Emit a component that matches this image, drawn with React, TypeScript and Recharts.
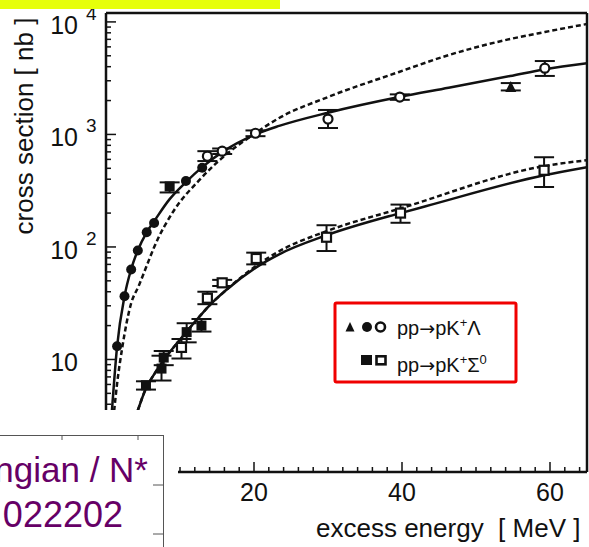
import React from "react";
import { ComposedChart, Line, Scatter, XAxis, YAxis, ErrorBar, ReferenceLine } from "recharts";

const FONT = "'Liberation Sans', Arial, Helvetica, sans-serif";
const INK = "#111";

// pp -> pK+ Lambda, filled circles (excess energy MeV, cross section nb)
const lamFilledE = [1.5, 2.5, 3.4, 4.3, 5.5, 6.5, 10.8, 13.0];
const lamFilledS = [13.1, 36.5, 63, 93, 135, 163, 385, 505];

// Lambda, filled square near threshold
const lamSquareE = [8.6];
const lamSquareS = [345];
const lamSquareLo = [40];
const lamSquareHi = [30];

// Lambda, open circles
const lamOpenE = [13.7, 15.7, 20.2, 30.0, 39.7, 59.3];
const lamOpenS = [640, 710, 1025, 1370, 2150, 3880];
const lamOpenLo = [60, 40, 60, 230, 120, 570];
const lamOpenHi = [70, 40, 60, 280, 120, 610];

// Lambda, filled triangle
const lamTriE = [54.7];
const lamTriS = [2640];
const lamTriLo = [180];
const lamTriHi = [220];

// pp -> pK+ Sigma0, filled squares
const sigFilledE = [5.4, 7.5, 7.8, 10.9, 12.9];
const sigFilledS = [5.9, 8.3, 10.4, 17.5, 20];
const sigFilledLo = [0.5, 1.8, 1.5, 3.3, 2.3];
const sigFilledHi = [0.5, 2.5, 1.5, 3.5, 2.9];

// Sigma0, open squares
const sigOpenE = [10.2, 13.7, 15.7, 20.3, 29.8, 39.8, 59.2];
const sigOpenS = [12.8, 35, 48, 79, 122, 200, 480];
const sigOpenLo = [2.6, 4, 3, 9, 30, 36, 139];
const sigOpenHi = [2.4, 5, 3, 10, 34, 38, 147];

// model curves
const lamSolidE = [0.8, 1.5, 2.5, 3.4, 4.3, 5.5, 6.5, 8.6, 10.8, 13, 15.7, 20.2, 23.4, 30, 39.6, 46.3, 54.6, 59.3, 65];
const lamSolidS = [3.5, 13.1, 36.4, 63.4, 93.5, 135, 169, 266, 377, 512, 696, 1000, 1190, 1560, 2150, 2600, 3300, 3800, 4300];
const lamDashE = [1.1, 1.5, 2.2, 3.4, 4.4, 5.9, 6.5, 9.2, 12.6, 14.9, 20.2, 23.4, 30, 39.6, 46.3, 54.6, 59.3, 65];
const lamDashS = [3.5, 6.1, 12.8, 31.6, 44.7, 79.4, 99.3, 212, 392, 556, 1028, 1400, 2150, 3590, 5070, 7040, 8130, 9580];
const sigSolidE = [4.3, 5.4, 6.5, 8.2, 10.6, 12.2, 14.0, 16.2, 20.3, 23.4, 29.8, 39.8, 43.2, 59.2, 65];
const sigSolidS = [3.53, 5.53, 7.37, 10.7, 16.7, 22.3, 30.3, 41.2, 65.9, 86.1, 127, 200, 230, 434, 512];
const sigDashE = [4.3, 5.4, 6.5, 8.2, 10.6, 12.2, 14.0, 16.2, 20.3, 23.4, 29.8, 39.8, 59.2, 65];
const sigDashS = [3.53, 5.53, 7.37, 10.7, 16.7, 22.3, 30.3, 41.2, 68, 91.6, 138, 220, 523, 590];

const xLabels = [20, 40, 60];
const xTicks = [0, 2, 4, 6, 8, 10, 12, 14, 16, 18, 20, 22, 24, 26, 28, 30, 32, 34, 36, 38, 40, 42, 44, 46, 48, 50, 52, 54, 56, 58, 60, 62, 64];
const yDecades = [1, 10, 100, 1000];
const yTicks = [...yDecades.flatMap((d) => [1, 2, 3, 4, 5, 6, 7, 8, 9].map((m) => m * d)), 10000];

const pts = (E: number[], S: number[], lo?: number[], hi?: number[]) =>
  E.map((x, i) => ({ x, y: S[i], err: lo ? [lo[i], (hi ?? lo)[i]] : [0, 0] }));

const FilledCircle = (p: any) => <circle cx={p.cx} cy={p.cy} r={5} fill={INK} />;
const OpenCircle = (p: any) => <circle cx={p.cx} cy={p.cy} r={4.5} fill="#fff" stroke={INK} strokeWidth={2.2} />;
const FilledSquare = (p: any) => <rect x={p.cx - 5} y={p.cy - 5} width={10} height={10} fill={INK} />;
const OpenSquare = (p: any) => (
  <rect x={p.cx - 4.5} y={p.cy - 4.5} width={9} height={9} fill="#fff" stroke={INK} strokeWidth={2.2} />
);
const Triangle = (p: any) => (
  <polygon points={`${p.cx},${p.cy - 6} ${p.cx - 5.5},${p.cy + 5} ${p.cx + 5.5},${p.cy + 5}`} fill={INK} />
);

function XTick({ x, y, payload }: any) {
  const v = payload.value;
  const major = xLabels.includes(v);
  return (
    <g>
      <line x1={x} x2={x} y1={y} y2={y - (major ? 10 : 5)} stroke={INK} strokeWidth={1.5} />
      {major && (
        <text x={x} y={y + 29} textAnchor="middle" fontSize={25} fontFamily={FONT} fill={INK}>
          {v}
        </text>
      )}
    </g>
  );
}

function YTick({ x, y, payload }: any) {
  const v = payload.value;
  const lg = Math.log10(v);
  const exp = Math.round(lg);
  const major = Math.abs(lg - exp) < 1e-6;
  return (
    <g>
      <line x1={x} x2={x + (major ? 10 : 5)} y1={y} y2={y} stroke={INK} strokeWidth={1.5} />
      {major && exp >= 1 && (
        <text x={x - 28} y={y + 12} textAnchor="end" fontSize={25} fontFamily={FONT} fill={INK}>
          10
        </text>
      )}
      {major && exp >= 2 && (
        <text x={x - 20} y={y - 2} fontSize={19} fontFamily={FONT} fill={INK}>
          {exp}
        </text>
      )}
    </g>
  );
}

const errProps = { dataKey: "err", direction: "y" as const, width: 10, stroke: INK, strokeWidth: 2 };

function Reaction({ y, last, sup }: { y: number; last: string; sup?: string }) {
  return (
    <text x={397} y={y} fontSize={20} fill={INK}>
      <tspan>pp</tspan>
      <tspan fontFamily="'DejaVu Sans', sans-serif" fontSize={19}>→</tspan>
      <tspan>pK</tspan>
      <tspan dy={-8} fontSize={13}>+</tspan>
      <tspan dy={8}>{last}</tspan>
      {sup && (
        <tspan dy={-8} fontSize={13}>
          {sup}
        </tspan>
      )}
    </text>
  );
}

export default function App() {
  return (
    <div style={{ position: "absolute", left: 0, top: 0, width: 589, height: 547, background: "#fff" }}>
      <ComposedChart width={589} height={547} margin={{ top: 13, right: 2, left: 0, bottom: 0 }}>
        <XAxis
          dataKey="x"
          type="number"
          domain={[0, 65]}
          allowDataOverflow
          ticks={xTicks}
          interval={0}
          tick={<XTick />}
          tickLine={false}
          tickSize={0}
          tickMargin={0}
          height={75}
          axisLine={{ stroke: INK, strokeWidth: 2.5 }}
        />
        <YAxis
          dataKey="y"
          type="number"
          scale="log"
          domain={[1, 12000]}
          allowDataOverflow
          ticks={yTicks}
          interval={0}
          tick={<YTick />}
          tickLine={false}
          tickSize={0}
          tickMargin={0}
          width={106}
          axisLine={{ stroke: INK, strokeWidth: 2.5 }}
        />
        <ReferenceLine y={12000} stroke={INK} strokeWidth={2.5} />
        <ReferenceLine x={65} stroke={INK} strokeWidth={2.5} />

        <Line data={pts(lamDashE, lamDashS)} dataKey="y" type="monotone" stroke={INK} strokeWidth={2.5} strokeDasharray="5 3" dot={false} isAnimationActive={false} />
        <Line data={pts(lamSolidE, lamSolidS)} dataKey="y" type="monotone" stroke={INK} strokeWidth={2.5} dot={false} isAnimationActive={false} />
        <Line data={pts(sigDashE, sigDashS)} dataKey="y" type="monotone" stroke={INK} strokeWidth={2.5} strokeDasharray="5 3" dot={false} isAnimationActive={false} />
        <Line data={pts(sigSolidE, sigSolidS)} dataKey="y" type="monotone" stroke={INK} strokeWidth={2.5} dot={false} isAnimationActive={false} />

        <Scatter data={pts(lamFilledE, lamFilledS)} shape={FilledCircle} isAnimationActive={false} />
        <Scatter data={pts(lamSquareE, lamSquareS, lamSquareLo, lamSquareHi)} shape={FilledSquare} isAnimationActive={false}>
          <ErrorBar {...errProps} />
        </Scatter>
        <Scatter data={pts(lamOpenE, lamOpenS, lamOpenLo, lamOpenHi)} shape={OpenCircle} isAnimationActive={false}>
          <ErrorBar {...errProps} />
        </Scatter>
        <Scatter data={pts(lamTriE, lamTriS, lamTriLo, lamTriHi)} shape={Triangle} isAnimationActive={false}>
          <ErrorBar {...errProps} />
        </Scatter>
        <Scatter data={pts(sigFilledE, sigFilledS, sigFilledLo, sigFilledHi)} shape={FilledSquare} isAnimationActive={false}>
          <ErrorBar {...errProps} />
        </Scatter>
        <Scatter data={pts(sigOpenE, sigOpenS, sigOpenLo, sigOpenHi)} shape={OpenSquare} isAnimationActive={false}>
          <ErrorBar {...errProps} />
        </Scatter>
      </ComposedChart>

      <svg width={589} height={547} style={{ position: "absolute", left: 0, top: 0, pointerEvents: "none" }} fontFamily={FONT}>
        {/* axis titles */}
        <text transform="translate(33,126) rotate(-90)" textAnchor="middle" fontSize={26} fill={INK}>
          cross section [ nb ]
        </text>
        <text x={316} y={537} fontSize={26} fill={INK} xmlSpace="preserve">
          excess energy  [ MeV ]
        </text>

        {/* legend */}
        <rect x={335} y={303} width={181} height={79} fill="#fff" stroke="#f00000" strokeWidth={3} rx={1.5} />
        <polygon points="350,322 345.5,331.5 354.5,331.5" fill={INK} />
        <circle cx={367} cy={327} r={5} fill={INK} />
        <circle cx={380.5} cy={327} r={4.5} fill="#fff" stroke={INK} strokeWidth={2.6} />
        <rect x={361} y={355} width={11} height={10} fill={INK} />
        <rect x={376.5} y={356.3} width={9} height={8} fill="#fff" stroke={INK} strokeWidth={2.6} />
        <Reaction y={335} last="Λ" />
        <Reaction y={372} last="Σ" sup="0" />

        {/* slide elements lying over the plot */}
        <rect x={0} y={0} width={280} height={9} fill="#e6ff0a" />
        <rect x={0} y={410} width={178} height={137} fill="#fff" />
        <g stroke="#555" strokeWidth={1}>
          <line x1={0} y1={435.5} x2={163.5} y2={435.5} />
          <line x1={163.5} y1={435} x2={163.5} y2={547} />
          <line x1={62} y1={436} x2={62} y2={440} />
          <line x1={138} y1={436} x2={138} y2={440} />
          <line x1={153} y1={485} x2={163} y2={485} />
          <line x1={153} y1={534} x2={163} y2={534} />
        </g>
        <text x={148} y={482} textAnchor="end" fontSize={35} fill="#660066">
          ngian / N*
        </text>
        <text x={123} y={527} textAnchor="end" fontSize={36} fill="#660066">
          022202
        </text>
      </svg>
    </div>
  );
}
